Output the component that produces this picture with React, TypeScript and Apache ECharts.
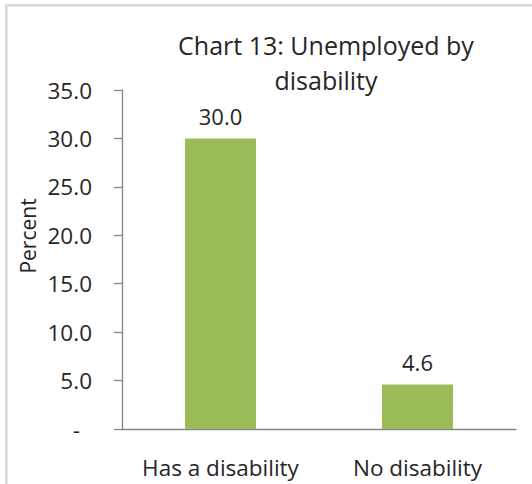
import React, { useEffect, useRef } from "react";
import * as echarts from "echarts";

const categories = ["Has a disability", "No disability"];
const values = [30.0, 4.6];
const chartTitle = "Chart 13: Unemployed by\ndisability";
const yAxisName = "Percent";

const FONT = "'Open Sans', sans-serif";
const TEXT = "#262626";

export default function App() {
  const ref = useRef<HTMLDivElement>(null);
  useEffect(() => {
    if (!ref.current) return;
    const chart = echarts.init(ref.current, undefined, { renderer: "svg" });
    chart.setOption({
      animation: false,
      backgroundColor: "#ffffff",
      title: {
        text: chartTitle,
        left: 321,
        top: 22,
        textAlign: "center",
        textStyle: {
          fontFamily: FONT,
          fontSize: 25,
          fontWeight: "normal",
          color: TEXT,
          lineHeight: 35,
        },
      },
      graphic: [
        {
          type: "rect",
          shape: { x: 6.3, y: 5.3, width: 600, height: 600 },
          style: { fill: "none", stroke: "#D9D9D9", lineWidth: 2.6 },
          silent: true,
        },
        {
          type: "text",
          x: 28,
          y: 236,
          rotation: Math.PI / 2,
          style: {
            text: yAxisName,
            fontFamily: FONT,
            fontSize: 21,
            fill: TEXT,
            align: "center",
            verticalAlign: "middle",
          },
        },
      ],
      grid: { left: 122, right: 16, top: 90, bottom: 55 },
      xAxis: {
        type: "category",
        data: categories,
        axisLine: { lineStyle: { color: "#868686", width: 1.3 } },
        axisTick: { show: false },
        axisLabel: {
          interval: 0,
          hideOverlap: false,
          fontFamily: FONT,
          fontSize: 22.5,
          color: TEXT,
          lineHeight: 28,
          margin: 24,
        },
      },
      yAxis: {
        type: "value",
        min: 0,
        max: 35,
        interval: 5,
        splitLine: { show: false },
        axisLine: { show: true, lineStyle: { color: "#868686", width: 1.3 } },
        axisTick: { show: true, inside: false, length: 8, lineStyle: { color: "#868686", width: 1.3 } },
        axisLabel: {
          fontFamily: FONT,
          fontSize: 22.5,
          color: TEXT,
          margin: 30,
          formatter: (v: number) => (v === 0 ? "{d|-}" : v.toFixed(1)),
          rich: {
            d: { fontFamily: FONT, fontSize: 22.5, color: TEXT, padding: [0, 12, 0, 0] },
          },
        },
      },
      series: [
        {
          type: "bar",
          data: values,
          barWidth: "36%",
          itemStyle: { color: "#9BBB59" },
          label: {
            show: true,
            position: "top",
            distance: 11,
            fontFamily: FONT,
            fontSize: 22,
            color: TEXT,
            formatter: (p: any) => Number(p.value).toFixed(1),
          },
        },
      ],
    });
    return () => chart.dispose();
  }, []);
  return (
    <div
      ref={ref}
      style={{ position: "absolute", left: 0, top: 0, width: 532, height: 484 }}
    />
  );
}
